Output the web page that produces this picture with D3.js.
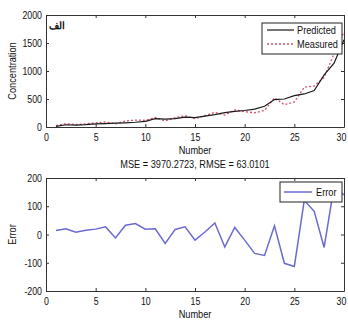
<!DOCTYPE html>
<html><head><meta charset="utf-8">
<script src="https://cdnjs.cloudflare.com/ajax/libs/d3/7.8.5/d3.min.js"></script>
<style>
body{margin:0;background:#fff;}
svg text{font-family:"Liberation Sans","Arial",sans-serif;fill:#111;}
</style></head><body>
<svg id="c" width="348" height="322"></svg>
<script>
const numbers = d3.range(1, 31);
const predicted = [10,40,35,42,55,62,68,75,85,100,150,140,150,175,168,195,220,258,280,295,320,370,490,500,560,590,650,930,1140,1560];
const measured  = [24,60,43,57,74,89,56,108,124,119,170,108,168,202,148,204,261,214,305,275,253,296,521,398,447,711,732,884,1310,1700];
const errors    = [14,20,8,15,19,27,-12,33,39,19,20,-32,18,27,-20,9,41,-44,25,-20,-67,-74,31,-102,-113,121,82,-46,170,140];
const xTicks = [0,5,10,15,20,25,30];
const yTicksTop = [0,500,1000,1500,2000];
const yTicksBot = [-200,-100,0,100,200];
const titleText = "MSE = 3970.2723, RMSE = 63.0101";
const panelLabel = "الف";

const svg = d3.select("#c");
const L = 46, R = 344;
const NARROW = 0.8;

function condense(sel){
  sel.each(function(){
    const w = this.getComputedTextLength();
    if (w > 0) d3.select(this).attr("textLength", w*NARROW).attr("lengthAdjust","spacingAndGlyphs");
  });
}

function panel(top, bottom, yDomain, yTicks, ylab, idx){
  const x = d3.scaleLinear().domain([0,30]).range([L,R]);
  const y = d3.scaleLinear().domain(yDomain).range([bottom, top]);
  const g = svg.append("g");
  const clipId = "clip"+idx;
  svg.append("clipPath").attr("id",clipId).append("rect")
    .attr("x",L).attr("y",top).attr("width",R-L).attr("height",bottom-top);
  const ax = g.append("g").attr("transform",`translate(0,${bottom})`)
    .call(d3.axisBottom(x).tickValues(xTicks).tickSizeInner(-3).tickSizeOuter(0).tickPadding(6));
  const axT = g.append("g").attr("transform",`translate(0,${top})`)
    .call(d3.axisTop(x).tickValues(xTicks).tickSizeInner(-3).tickSizeOuter(0).tickFormat(""));
  const ay = g.append("g").attr("transform",`translate(${L},0)`)
    .call(d3.axisLeft(y).tickValues(yTicks).tickSizeInner(-3).tickSizeOuter(0).tickPadding(4));
  const ayR = g.append("g").attr("transform",`translate(${R},0)`)
    .call(d3.axisRight(y).tickValues(yTicks).tickSizeInner(-3).tickSizeOuter(0).tickFormat(""));
  [ax,axT,ay,ayR].forEach(a=>{
    a.select(".domain").attr("stroke","#333").attr("stroke-width",1);
    a.selectAll(".tick line").attr("stroke","#333");
    a.selectAll("text").attr("font-size",11).attr("fill","#111")
     .attr("font-family",'"Liberation Sans",Arial,sans-serif');
  });
  ay.selectAll(".tick text").text(d=>d<0?"-"+Math.abs(d):d);
  condense(ax.selectAll(".tick text"));
  condense(ay.selectAll(".tick text"));
  ax.selectAll(".tick text").filter(d=>d===30).attr("dx",-3);
  g.append("text").attr("x",(L+R)/2).attr("y",bottom+27).attr("text-anchor","middle")
    .attr("font-size",11.5).text("Number").call(condense);
  g.append("text").attr("transform",`translate(16,${(top+bottom)/2}) rotate(-90)`)
    .attr("text-anchor","middle").attr("font-size",11.5).attr("fill","#333").text(ylab).call(condense);
  return {x,y,g,clipId};
}

// top panel
const p1 = panel(15, 127, [0,2000], yTicksTop, "Concentration", 1);
const line1 = d3.line().x((d,i)=>p1.x(numbers[i])).y(d=>p1.y(d));
p1.g.append("path").datum(measured).attr("d",line1).attr("fill","none")
  .attr("stroke","#d4506a").attr("stroke-width",1.3).attr("stroke-dasharray","2,2")
  .attr("clip-path",`url(#${p1.clipId})`);
p1.g.append("path").datum(predicted).attr("d",line1).attr("fill","none")
  .attr("stroke","#1a1a1a").attr("stroke-width",1.2)
  .attr("clip-path",`url(#${p1.clipId})`);
p1.g.append("text").attr("x",49).attr("y",29).attr("font-size",10).attr("font-weight","bold")
  .attr("font-family",'"DejaVu Sans",sans-serif').attr("fill","#222").text(panelLabel);
// legend top
const lg1 = p1.g.append("g");
lg1.append("rect").attr("x",262).attr("y",23).attr("width",80).attr("height",31)
  .attr("fill","#fff").attr("stroke","#222").attr("stroke-width",1);
lg1.append("line").attr("x1",267).attr("x2",294).attr("y1",30).attr("y2",30)
  .attr("stroke","#1a1a1a").attr("stroke-width",1.2);
lg1.append("text").attr("x",297).attr("y",34).attr("font-size",11.5).text("Predicted").call(condense);
lg1.append("line").attr("x1",267).attr("x2",294).attr("y1",44).attr("y2",44)
  .attr("stroke","#d4506a").attr("stroke-width",1.3).attr("stroke-dasharray","2,2");
lg1.append("text").attr("x",297).attr("y",48).attr("font-size",11.5).text("Measured").call(condense);

// title
svg.append("text").attr("x",(L+R)/2).attr("y",168).attr("text-anchor","middle")
  .attr("font-size",11.5).text(titleText).call(condense);

// bottom panel
const p2 = panel(178, 291, [-200,200], yTicksBot, "Error", 2);
const line2 = d3.line().x((d,i)=>p2.x(numbers[i])).y(d=>p2.y(d));
p2.g.append("path").datum(errors).attr("d",line2).attr("fill","none")
  .attr("stroke","#6a6ad0").attr("stroke-width",1.5)
  .attr("clip-path",`url(#${p2.clipId})`);
const lg2 = p2.g.append("g");
lg2.append("rect").attr("x",280).attr("y",182).attr("width",62).attr("height",20)
  .attr("fill","#fff").attr("stroke","#222").attr("stroke-width",1);
lg2.append("line").attr("x1",284).attr("x2",312).attr("y1",192).attr("y2",192)
  .attr("stroke","#6a6ad0").attr("stroke-width",1.5);
lg2.append("text").attr("x",316).attr("y",196).attr("font-size",11.5).text("Error").call(condense);
</script>
</body></html>
